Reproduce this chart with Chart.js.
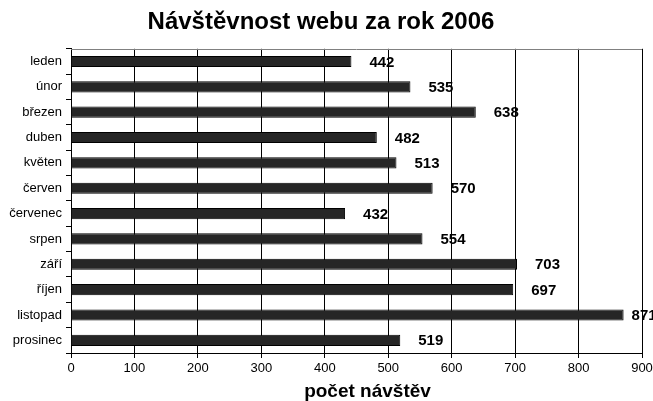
<!DOCTYPE html>
<html>
<head>
<meta charset="utf-8">
<script src="https://cdn.jsdelivr.net/npm/chart.js@4"></script>
<style>
    html, body { margin: 0; padding: 0; background: #fff; }
    #graf { display: block; }
</style>
</head>
<body>
<canvas id="graf" width="653" height="401"></canvas>
<script>
// data
const mesice = ['leden', 'únor', 'březen', 'duben', 'květen', 'červen', 'červenec', 'srpen', 'září', 'říjen', 'listopad', 'prosinec'];
const navstevy = [442, 535, 638, 482, 513, 570, 432, 554, 703, 697, 871, 519];
const osaX = [0, 100, 200, 300, 400, 500, 600, 700, 800, 900];
const nazevOsyX = 'počet návštěv';

const pismo = '"Liberation Sans", Arial, sans-serif';
Chart.defaults.font.family = pismo;
Chart.defaults.color = '#000';

// horni okraj plochy grafu
const okrajPlochy = {
    id: 'okrajPlochy',
    beforeDatasetsDraw(chart) {
        const { ctx, chartArea } = chart;
        ctx.save();
        ctx.strokeStyle = '#808080';
        ctx.lineWidth = 1;
        ctx.beginPath();
        ctx.moveTo(chartArea.left, Math.round(chartArea.top) + 0.5);
        ctx.lineTo(chartArea.right, Math.round(chartArea.top) + 0.5);
        ctx.stroke();
        ctx.restore();
    }
};

// popisky hodnot vedle sloupcu + nazev osy x (v originale je posunuty doprava)
const popiskyHodnot = {
    id: 'popiskyHodnot',
    afterDatasetsDraw(chart) {
        const { ctx } = chart;
        const meta = chart.getDatasetMeta(0);
        ctx.save();
        ctx.font = 'bold 15px ' + pismo;
        ctx.fillStyle = '#000';
        ctx.textBaseline = 'middle';
        meta.data.forEach((bar, i) => {
            const text = String(navstevy[i]);
            const w = ctx.measureText(text).width;
            let x = bar.x + 18;
            if (x + w > chart.width) x = bar.x + 8;
            ctx.fillText(text, x, bar.y + 1);
        });

        const { left, right } = chart.chartArea;
        ctx.font = 'bold 19px ' + pismo;
        ctx.textAlign = 'center';
        ctx.textBaseline = 'alphabetic';
        ctx.fillText(nazevOsyX, (left + right) / 2 + 11, chart.height - 4);
        ctx.restore();
    }
};

new Chart(document.getElementById('graf'), {
    type: 'bar',
    data: {
        labels: mesice,
        datasets: [{
            data: navstevy,
            backgroundColor: '#262626',
            borderColor: '#000',
            borderWidth: 1,
            barPercentage: 0.44,
            categoryPercentage: 1
        }]
    },
    options: {
        indexAxis: 'y',
        responsive: false,
        animation: false,
        devicePixelRatio: 1,
        layout: { padding: { left: 0, right: 11, top: 0, bottom: 0 } },
        plugins: {
            legend: { display: false },
            tooltip: { enabled: false },
            title: {
                display: true,
                text: 'Návštěvnost webu za rok 2006',
                color: '#000',
                font: { size: 24, weight: 'bold' },
                padding: { top: 8, bottom: 12 }
            }
        },
        scales: {
            x: {
                min: 0,
                max: 900,
                afterBuildTicks(axis) {
                    axis.ticks = osaX.map(v => ({ value: v }));
                },
                afterFit(axis) {
                    axis.height = 48;
                    axis.paddingLeft = 0;
                    axis.paddingRight = 0;
                },
                grid: { color: '#000', lineWidth: 1, tickLength: 5, drawTicks: true },
                border: { color: '#000', width: 1 },
                ticks: { font: { size: 13 }, color: '#000', padding: 3 }
            },
            y: {
                afterFit(axis) { axis.width = 71; },
                grid: { drawOnChartArea: false, drawTicks: true, tickLength: 5, color: '#000', offset: true },
                border: { color: '#000', width: 1 },
                ticks: { font: { size: 13 }, color: '#000', padding: 4 }
            }
        }
    },
    plugins: [okrajPlochy, popiskyHodnot]
});
</script>
</body>
</html>
